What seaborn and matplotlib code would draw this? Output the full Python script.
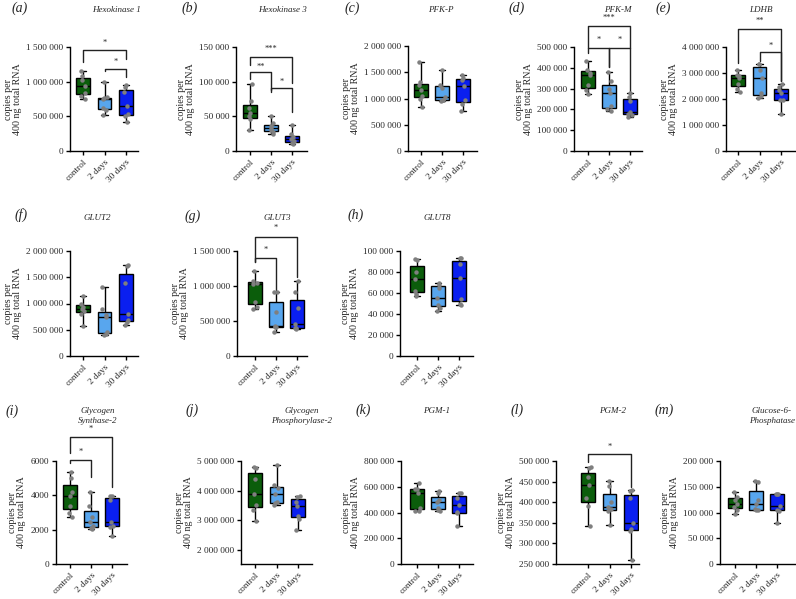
import numpy as np
import pandas as pd
import matplotlib
matplotlib.use('Agg')
import matplotlib.pyplot as plt
import seaborn as sns
from matplotlib.ticker import FuncFormatter, MultipleLocator

groups = ['control', '2 days', '30 days']
colors = ['#0b5d0b', '#58a6ee', '#0a1ff0']

# copies per 400 ng total RNA, in thousands (control, 2 days, 30 days)
hexokinase1 = [[743, 790, 840, 934, 1030, 1078, 1150],
               [517, 590, 618, 750, 760, 774, 997],
               [420, 500, 534, 652, 850, 922, 958]]
hexokinase3 = [[30, 46, 50, 55, 62, 72, 97],
               [25, 28, 30, 33, 36, 40, 50],
               [10, 12, 14, 17, 20, 24, 37]]
pfkp = [[840, 990, 1050, 1170, 1250, 1310, 1700],
        [960, 965, 975, 1030, 1200, 1260, 1540],
        [760, 900, 980, 1230, 1350, 1390, 1440]]
pfkm = [[273, 295, 315, 364, 375, 391, 431],
        [193, 200, 218, 280, 300, 338, 380],
        [165, 172, 180, 188, 240, 258, 280]]
ldhb = [[2270, 2400, 2580, 2820, 2880, 2940, 3100],
        [2020, 2120, 2220, 2820, 3130, 3330, 3360],
        [1440, 1950, 1970, 2240, 2350, 2450, 2590]]
glut2 = [[570, 800, 860, 900, 940, 1000, 1150],
         [395, 410, 450, 745, 780, 900, 1320],
         [590, 650, 690, 800, 1400, 1720, 1730]]
glut3 = [[665, 700, 774, 1030, 1050, 1070, 1215],
         [345, 410, 420, 430, 630, 920, 920],
         [390, 395, 405, 460, 680, 920, 1070]]
glut8 = [[57, 59, 62, 73, 80, 91, 92],
         [42.7, 46, 49, 55.4, 65, 68, 70],
         [48.4, 50, 54, 74, 88, 93, 93.6]]
gys2 = [[2.73, 3.0, 3.38, 3.97, 4.2, 5.0, 5.34],
        [2.03, 2.1, 2.2, 2.44, 2.75, 3.37, 4.18],
        [1.61, 2.18, 2.2, 2.42, 3.7, 3.96, 3.97]]
pygl2 = [[2990, 3350, 3530, 3890, 4400, 4780, 4790],
         [3520, 3580, 3620, 3890, 4100, 4180, 4870],
         [2680, 3050, 3150, 3490, 3620, 3800, 3820]]
pgm1 = [[408, 415, 437, 550, 580, 586, 632],
        [415, 420, 436, 485, 500, 548, 570],
        [297, 395, 405, 459, 510, 548, 555]]
pgm2 = [[343, 390, 410, 442, 460, 484, 485],
        [345, 378, 384, 389, 400, 440, 452],
        [260, 330, 336, 349, 410, 426, 430]]
g6pc = [[97.4, 105, 111, 116, 125, 130, 140.6],
        [104, 104, 106, 116, 124, 160, 161],
        [79, 103, 105, 113, 135, 136, 136]]

titles = ['Hexokinase 1', 'Hexokinase 3', 'PFK-P', 'PFK-M', 'LDHB',
          'GLUT2', 'GLUT3', 'GLUT8',
          'Glycogen\nSynthase-2', 'Glycogen\nPhosphorylase-2', 'PGM-1', 'PGM-2',
          'Glucose-6-\nPhosphatase']
letters = list('abcdefghijklm')
values = [hexokinase1, hexokinase3, pfkp, pfkm, ldhb, glut2, glut3, glut8,
          gys2, pygl2, pgm1, pgm2, g6pc]
# y range and tick step, thousands
yranges = [(0, 1500, 500), (0, 150, 50), (0, 2000, 500), (0, 500, 100), (0, 4000, 1000),
           (0, 2000, 500), (0, 1500, 500), (0, 100, 20),
           (0, 6, 2), (1530, 5000, 1000), (0, 800, 200), (250, 500, 50), (0, 200, 50)]
# significance brackets: (x1, x2, bar y, left end, right end, stars, star y), thousands
brackets = {
    'a': [(0, 2, 1457, 1284, 1330, '*', 1560), (1, 2, 1183, 1154, 1068, '*', 1284)],
    'b': [(0, 2, 135.6, 124, 98, '***', 147), (0, 1, 114, 104, 88, '**', 121),
          (1, 2, 91, 85, 56, '*', 99.5)],
    'd': [(0, 2, 601, 495, 495, '***', 639), (0, 1, 495, 471, 404, '*', 533),
          (1, 2, 495, 404, 290, '*', 533)],
    'e': [(0, 2, 4690, 3380, 2700, '**', 5000), (1, 2, 3800, 3450, 2700, '*', 4050)],
    'g': [(0, 2, 1700, 1340, 1130, '*', 1830), (0, 1, 1400, 1340, 940, '*', 1510)],
    'i': [(0, 2, 7.4, 6.47, 4.49, '*', 7.86), (0, 1, 6.06, 5.88, 5.07, '*', 6.52)],
    'l': [(0, 2, 517, 497, 437, '*', 534)],
}

# layout in pixels: left, right, top, bottom, first box centre, box spacing
layout = [(70, 138, 47, 151, 83, 21.5), (236, 307, 47, 151, 250, 21), (408, 477, 46, 151, 421, 21),
          (574, 642, 47, 151, 588, 21), (726, 795, 47, 151, 738, 21.5),
          (70, 138, 251, 356, 83, 21.5), (237, 307, 251, 356, 255, 21), (400, 473, 251, 356, 417, 21),
          (56, 127, 461, 564, 70, 21), (241, 312, 461, 564, 255, 21.5), (401, 473, 461, 564, 417, 21),
          (556, 639, 461, 564, 588, 21.5), (720, 795, 461, 564, 735, 21)]
letter_pos = [(20, 8), (190, 8), (352, 8), (517, 8), (663, 8),
              (21, 215), (193, 216), (356, 215),
              (12, 411), (192, 410), (363, 410), (517, 410), (664, 410)]
title_pos = [(116, 10), (282, 10), (441, 10), (618, 10), (761, 10),
             (97, 218), (277, 218), (437, 218),
             (98, 416), (302, 416), (437, 411), (613, 411), (772, 416)]

sns.set_theme(style='ticks')
plt.rcParams['font.family'] = ['Liberation Serif', 'DejaVu Serif']
W, H = 796, 599
fig = plt.figure(figsize=(W / 100, H / 100), dpi=100)


def fmt(v, pos):
    v = int(round(v))
    if abs(v) < 10000:
        return str(v)
    return f'{v:,}'.replace(',', ' ')


for i, letter in enumerate(letters):
    L, R, top, bot, c0, s = layout[i]
    ax = fig.add_axes([L / W, 1 - bot / H, (R - L) / W, (bot - top) / H])
    vals = values[i]
    df = pd.DataFrame({'group': np.repeat(groups, [len(v) for v in vals]),
                       'value': np.concatenate(vals) * 1000})
    sns.boxplot(data=df, x='group', y='value', hue='group', order=groups, hue_order=groups,
                palette=colors, whis=(0, 100), width=0.63, showfliers=False, saturation=1,
                linecolor='black', linewidth=1, legend=False, ax=ax)
    sns.stripplot(data=df, x='group', y='value', order=groups, color='#7f7f7f', size=3.2,
                  jitter=0.12, ax=ax)
    lo, hi, step = yranges[i]
    ax.set_xlim((L - c0) / s, (R - c0) / s)
    ax.set_ylim(lo * 1000, hi * 1000)
    ax.yaxis.set_major_locator(MultipleLocator(step * 1000))
    ax.yaxis.set_major_formatter(FuncFormatter(fmt))
    ax.set_xlabel('')
    ax.set_ylabel('copies per\n400 ng total RNA', fontsize=7.2, labelpad=3, linespacing=1.0)
    ax.tick_params(axis='both', labelsize=6.7, length=3, width=1, pad=2, color='black')
    plt.setp(ax.get_xticklabels(), rotation=45, ha='right', rotation_mode='anchor')
    sns.despine(ax=ax)
    for sp in ['left', 'bottom']:
        ax.spines[sp].set_linewidth(1)
        ax.spines[sp].set_color('black')

    for x1, x2, yb, y1, y2, txt, yt in brackets.get(letter, []):
        ax.plot([x1, x1, x2, x2], [y1 * 1000, yb * 1000, yb * 1000, y2 * 1000],
                color='#222222', lw=1, clip_on=False)
        ax.text((x1 + x2) / 2, yt * 1000, txt, ha='center', va='center', fontsize=6)

    lx, ly = letter_pos[i]
    fig.text(lx / W, 1 - ly / H, f'({letter})', fontsize=10, style='italic',
             ha='center', va='center')
    tx, ty = title_pos[i]
    fig.text(tx / W, 1 - ty / H, titles[i], fontsize=6.5, style='italic',
             ha='center', va='center', linespacing=1.3)

fig.savefig('out.png', dpi=100)
